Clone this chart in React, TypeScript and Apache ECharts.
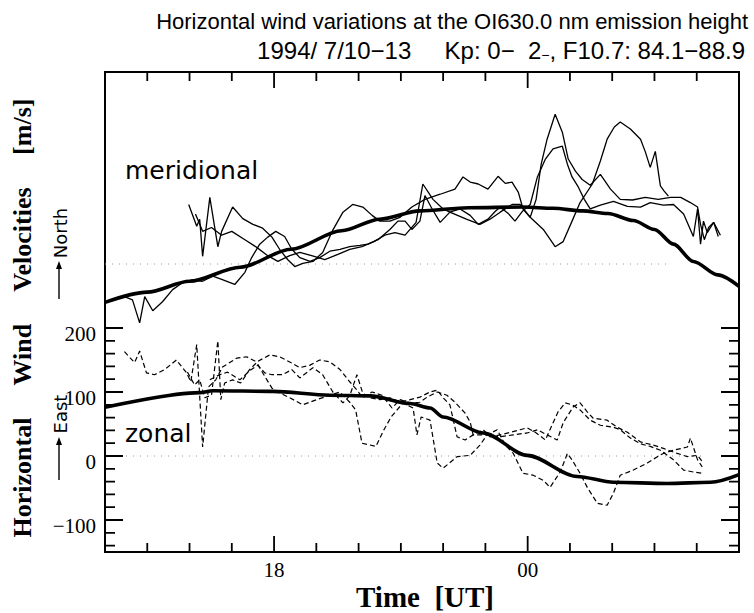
import React, { useEffect, useRef } from "react";
import * as echarts from "echarts";

// Time axis in hours UT; values above 24 fall on the next day (24 = 00 UT).
const TIME_MIN = 14;
const TIME_MAX = 29;
// Shared velocity axis in m/s; the meridional panel is lifted by MERIDIONAL_OFFSET.
const VEL_MIN = -150;
const VEL_MAX = 600;
const MERIDIONAL_OFFSET = 300;

const X_MAJOR_TICKS = [18, 24];
const X_MINOR_TICKS = [15, 16, 17, 19, 20, 21, 22, 23, 25, 26, 27, 28];
const Y_MAJOR_TICKS = [-100, 0, 100, 200];
const Y_MINOR_TICKS = [-140, -120, -80, -60, -40, -20, 20, 40, 60, 80, 120, 140, 160, 180];

// Model (thick) curves
const merModelT = [14.0, 15.0, 16.0, 17.2, 18.4, 19.6, 20.5, 21.45, 22.6, 23.9, 24.6, 25.3, 25.9, 26.5, 27.0, 27.45, 27.92, 28.5, 29.0];
const merModelV = [-60, -44, -27, -5, 23, 52, 70, 83, 88, 89, 87, 83, 79, 68, 54, 31, 4, -17, -35];

const zonModelT = [14.0, 16.24, 16.55, 17.97, 19.32, 20.27, 21.22, 21.69, 22.0, 22.95, 23.99, 25.17, 26.03, 27.3, 28.33, 29.0];
const zonModelV = [76, 99, 102, 101, 95, 94, 82, 75, 61, 36, 1, -32, -41, -43, -41, -29];

// Observed meridional winds, one array pair per night
const mer1T = [15.98, 16.17, 16.24, 16.31, 16.48, 16.67, 16.76, 17.02, 17.26, 17.5, 17.73, 17.95, 18.13, 18.32, 18.49, 18.68, 18.92, 19.15, 19.39, 19.63, 19.86, 20.1, 20.32, 20.5, 20.74, 20.98, 21.26, 21.57, 21.93, 22.28, 22.47, 22.64, 22.83, 23.06, 23.3, 23.47, 23.63, 23.78, 23.89, 24.06, 24.2, 24.32, 24.46, 24.65, 24.82, 24.96, 25.13, 25.29, 25.48, 25.72, 25.96, 26.19, 26.48, 26.78, 27.09, 27.38, 27.62, 27.85, 28.02, 28.09, 28.18, 28.28, 28.4, 28.51];
const mer1V = [93, 59, 70, 12, 104, 27, 51, 89, 71, 62, 56, 42, 23, 7, -4, 1, 4, 18, 53, 81, 93, 89, 76, 67, 67, 73, 89, 101, 109, 117, 136, 128, 125, 117, 137, 126, 128, 112, 86, 73, 101, 156, 195, 234, 206, 164, 145, 132, 123, 140, 117, 101, 100, 104, 101, 104, 104, 96, 89, 62, 38, 57, 65, 43];

const mer2T = [14.46, 14.65, 14.82, 14.94, 15.13, 15.36, 15.6, 15.84, 16.07, 16.31, 16.55, 16.76, 17.07, 17.31, 17.47, 17.66, 17.85, 18.04, 18.25, 18.42, 18.61, 18.85, 19.08, 19.32, 19.56, 19.79, 20.03, 20.22, 20.46, 20.74, 20.93, 21.1, 21.26, 21.45, 21.57, 21.74, 21.93, 22.16, 22.4, 22.64, 22.83, 23.06, 23.23, 23.35, 23.54, 23.7, 23.87, 24.06, 24.23, 24.42, 24.6, 24.82, 24.94, 25.05, 25.2, 25.34, 25.48, 25.72, 26.03, 26.36, 26.67, 26.9, 27.21, 27.45, 27.69, 27.92, 28.02, 28.09, 28.16, 28.25, 28.4, 28.56];
const mer2V = [-51, -56, -92, -51, -73, -59, -40, -29, -25, -27, -19, -24, -32, -13, 10, 31, 42, 51, 43, 23, 10, 4, 10, 20, 23, 27, 29, 31, 38, 54, 67, 67, 54, 67, 107, 86, 65, 81, 86, 76, 62, 70, 82, 89, 79, 67, 82, 93, 136, 164, 180, 184, 156, 136, 120, 101, 86, 92, 98, 90, 89, 96, 92, 93, 78, 43, 86, 31, 67, 49, 65, 45];

const mer3T = [16.14, 16.31, 16.52, 16.76, 17.0, 17.31, 17.59, 17.85, 18.09, 18.37, 18.61, 18.89, 19.2, 19.51, 19.79, 20.08, 20.36, 20.62, 20.86, 21.1, 21.36, 21.52, 21.76, 22.0, 22.16, 22.55, 22.87, 23.11, 23.35, 23.63, 23.82, 24.06, 24.37, 24.65, 24.84, 25.05, 25.24, 25.53, 25.72, 25.88, 26.05, 26.19, 26.43, 26.67, 26.78, 26.9, 27.02, 27.14, 27.23, 27.33];
const mer3V = [78, 51, 57, 45, 51, 38, 26, 13, 4, 13, 18, 13, 7, 15, 23, 27, 35, 45, 49, 45, 65, 125, 101, 86, 81, 70, 62, 70, 81, 93, 93, 73, 54, 27, 35, 67, 96, 125, 161, 195, 214, 222, 211, 195, 176, 151, 176, 122, 114, 106];

// Observed zonal winds, one array pair per night
const zon1T = [14.46, 14.6, 14.7, 14.82, 14.98, 15.17, 15.41, 15.69, 15.93, 16.03, 16.17, 16.31, 16.45, 16.62, 16.78, 17.12, 17.35, 17.59, 17.9, 18.13, 18.37, 18.61, 18.85, 19.08, 19.32, 19.56, 19.79, 19.96, 20.1, 20.32, 20.55, 20.79, 20.98, 21.22, 21.45, 21.62, 21.86, 22.09, 22.28, 22.52, 22.64, 22.71, 23.04, 23.35, 23.66, 23.99, 24.23, 24.46, 24.7, 24.84, 25.08, 25.24, 25.41, 25.55, 25.88, 26.12, 26.36, 26.67, 26.97, 27.21, 27.54, 27.78, 28.02, 28.16];
const zon1V = [163, 153, 146, 164, 130, 127, 135, 150, 130, 116, 174, 14, 108, 119, 139, 153, 155, 147, 158, 155, 147, 138, 142, 150, 147, 135, 116, 103, 91, 100, 95, 75, 88, 83, 84, 92, 100, 95, 84, 67, 53, 33, 33, 30, 33, 36, 41, 33, 25, 52, 77, 83, 69, 59, 56, 45, 37, 22, 17, 12, 4, -1, 1, -11];

const zon2T = [15.95, 16.12, 16.24, 16.36, 16.52, 16.67, 16.74, 16.83, 17.02, 17.21, 17.42, 17.59, 17.73, 17.95, 18.18, 18.37, 18.68, 19.01, 19.32, 19.56, 19.79, 19.93, 20.08, 20.41, 20.6, 20.77, 21.05, 21.29, 21.38, 21.48, 21.69, 21.86, 22.0, 22.33, 22.64, 22.87, 23.04, 23.28, 23.47, 23.66, 23.89, 24.13, 24.37, 24.53, 24.77, 24.94, 25.05, 25.24, 25.41, 25.65, 25.88, 26.03, 26.19, 26.5, 26.83, 27.07, 27.21, 27.45, 27.78, 27.85, 28.02, 28.13];
const zon2V = [131, 111, 119, 91, 95, 180, 88, 114, 119, 114, 135, 146, 130, 106, 97, 91, 80, 88, 95, 100, 84, 72, 20, 15, 41, 61, 83, 75, 33, 61, 56, -11, -19, -1, 1, 17, 33, 41, 17, 4, -27, -30, -38, -49, -25, 4, -6, -27, -49, -74, -77, -58, -30, -22, -11, -1, 4, 9, 14, 28, -6, -17];

const zon3T = [16.48, 16.71, 16.9, 17.19, 17.42, 17.61, 17.78, 17.95, 18.2, 18.42, 18.61, 18.92, 19.15, 19.39, 19.63, 19.79, 19.96, 20.1, 20.27, 20.5, 20.74, 20.98, 21.22, 21.45, 21.69, 21.86, 22.0, 22.16, 22.33, 22.52, 22.71, 22.95, 23.11, 23.35, 23.59, 23.82, 23.99, 24.18, 24.42, 24.58, 24.72, 24.89, 25.05, 25.24, 25.48, 25.72, 26.03, 26.19, 26.43, 26.67, 26.9, 27.14, 27.45, 27.69, 27.92, 28.13];
const zon3V = [119, 127, 131, 119, 133, 142, 130, 127, 127, 135, 122, 138, 127, 100, 83, 94, 127, 98, 91, 88, 91, 84, 88, 92, 100, 103, 91, 80, 30, 25, 33, 41, 30, 33, 37, 41, 44, 37, 25, 49, 69, 83, 80, 72, 56, 48, 45, 41, 28, 19, 15, 9, -6, -22, -25, -27];

// Extent of the dotted zero references in each panel
const merZeroT = [14, 27.4];
const zonZeroT = [14, 28.2];

const toPoints = (t: number[], v: number[], shift = 0) => t.map((h, i) => [h, v[i] + shift]);

// Plot frame in page pixels and the linear scales it implies
const GRID = { left: 105, right: 15, top: 72, bottom: 61 };
const CHART_W = 754;
const CHART_H = 613;
const PX_PER_HOUR = (CHART_W - GRID.left - GRID.right) / (TIME_MAX - TIME_MIN);
const PX_PER_MS = (CHART_H - GRID.top - GRID.bottom) / (VEL_MAX - VEL_MIN);

// Tick "combs": one polyline runs along a frame edge and juts inward at every tick.
function timeComb(edge: number, dir: number) {
  const ticks = [...X_MAJOR_TICKS, ...X_MINOR_TICKS].sort((a, b) => a - b);
  const pts: number[][] = [[TIME_MIN, edge]];
  ticks.forEach((t) => {
    const len = X_MAJOR_TICKS.includes(t) ? 16 : 9;
    pts.push([t, edge], [t, edge + (dir * len) / PX_PER_MS], [t, edge]);
  });
  pts.push([TIME_MAX, edge]);
  return pts;
}
function velComb(edge: number, dir: number) {
  const ticks = [...Y_MAJOR_TICKS, ...Y_MINOR_TICKS].sort((a, b) => a - b);
  const pts: number[][] = [[edge, VEL_MIN]];
  ticks.forEach((v) => {
    const len = Y_MAJOR_TICKS.includes(v) ? 18 : 10;
    pts.push([edge, v], [edge + (dir * len) / PX_PER_HOUR, v], [edge, v]);
  });
  return pts;
}

export default function App() {
  const ref = useRef<HTMLDivElement>(null);

  useEffect(() => {
    if (!ref.current) return;
    const chart = echarts.init(ref.current, null, { renderer: "svg" });

    const serif = '"Liberation Serif", "Times New Roman", serif';
    const sans = '"DejaVu Sans", sans-serif';
    const helv = '"Liberation Sans", Arial, sans-serif';

    const fmtHour = (v: number) => String(Math.round(v) % 24).padStart(2, "0");
    const fmtVel = (v: number) => (v < 0 ? "\u2212" + Math.abs(v) : String(v));

    const xAxis = {
      type: "value", min: TIME_MIN, max: TIME_MAX, position: "bottom",
      axisLine: { show: false, onZero: false }, splitLine: { show: false }, axisTick: { show: false },
      axisLabel: { show: true, customValues: X_MAJOR_TICKS, formatter: fmtHour, fontFamily: serif, fontSize: 21, color: "#000", margin: 7 },
    };

    const yAxis = {
      type: "value", min: VEL_MIN, max: VEL_MAX, position: "left",
      axisLine: { show: false, onZero: false }, splitLine: { show: false }, axisTick: { show: false },
      axisLabel: {
        show: true, customValues: Y_MAJOR_TICKS, formatter: fmtVel, fontFamily: serif, fontSize: 21, color: "#000",
        margin: 9, verticalAlign: "top", lineHeight: 12,
      },
    };

    const lineSeries = (data: any[], lineStyle: any, extra: any = {}) => ({
      type: "line", xAxisIndex: 0, yAxisIndex: 0, data,
      symbol: "none", showSymbol: false, silent: true, lineStyle, ...extra,
    });

    const thin = { color: "#000", width: 1.3 };
    const dashed = { color: "#000", width: 1.2, type: [5, 3] };
    const thick = { color: "#000", width: 3.6 };
    const dotted = { color: "#9a9a9a", width: 1, type: [1, 6] };
    const tickStyle = { color: "#000", width: 1.8, join: "miter" };

    const series = [
      lineSeries(merZeroT.map((h) => [h, MERIDIONAL_OFFSET]), dotted),
      lineSeries(zonZeroT.map((h) => [h, 0]), dotted),
      lineSeries(toPoints(mer1T, mer1V, MERIDIONAL_OFFSET), thin),
      lineSeries(toPoints(mer2T, mer2V, MERIDIONAL_OFFSET), thin),
      lineSeries(toPoints(mer3T, mer3V, MERIDIONAL_OFFSET), thin),
      lineSeries(toPoints(zon1T, zon1V), dashed),
      lineSeries(toPoints(zon2T, zon2V), dashed),
      lineSeries(toPoints(zon3T, zon3V), dashed),
      lineSeries(toPoints(merModelT, merModelV, MERIDIONAL_OFFSET), thick, { smooth: 0.3, smoothMonotone: "x", z: 5 }),
      lineSeries(toPoints(zonModelT, zonModelV), thick, { smooth: 0.3, smoothMonotone: "x", z: 5 }),
      // frame ticks
      lineSeries(timeComb(VEL_MIN, 1), tickStyle, { z: 4 }),
      lineSeries(timeComb(VEL_MAX, -1), tickStyle, { z: 4 }),
      lineSeries(velComb(TIME_MIN, 1), tickStyle, { z: 4 }),
      lineSeries(velComb(TIME_MAX, -1), tickStyle, { z: 4 }),
    ];

    const arrowUp = (x: number, yTail: number, yTip: number) => [
      { type: "line", shape: { x1: x, y1: yTail, x2: x, y2: yTip + 6 }, style: { stroke: "#000", lineWidth: 1.4 } },
      { type: "polygon", shape: { points: [[x, yTip], [x - 3, yTip + 8], [x + 3, yTip + 8]] }, style: { fill: "#000" } },
    ];

    const texts = [
      {
        type: "text", x: 748, y: 21,
        style: {
          text: "Horizontal wind variations at the OI630.0 nm emission height",
          fontFamily: helv, fontSize: 22, fill: "#000", textAlign: "right", textVerticalAlign: "middle",
        },
      },
      {
        type: "text", x: 745, y: 50,
        style: {
          text: "1994/ 7/10\u221213     Kp: 0\u2212  2{s|\u2212}, F10.7: 84.1\u221288.9",
          fontFamily: helv, fontSize: 24, fill: "#000", textAlign: "right", textVerticalAlign: "middle",
          rich: { s: { fontSize: 14, verticalAlign: "bottom", fontFamily: helv } },
        },
      },
      { type: "text", x: 125, y: 170, style: { text: "meridional", fontFamily: sans, fontSize: 25, fill: "#000", textAlign: "left", textVerticalAlign: "middle" } },
      { type: "text", x: 125, y: 433, style: { text: "zonal", fontFamily: sans, fontSize: 25, fill: "#000", textAlign: "left", textVerticalAlign: "middle" } },
      { type: "text", x: 425, y: 597, style: { text: "Time  [UT]", fontFamily: serif, fontWeight: "bold", fontSize: 29, fill: "#000", textAlign: "center", textVerticalAlign: "middle" } },
      {
        type: "text", x: 22, y: 318, rotation: Math.PI / 2,
        style: { text: "Horizontal     Wind     Velocities     [m/s]", fontFamily: serif, fontWeight: "bold", fontSize: 26, fill: "#000", textAlign: "center", textVerticalAlign: "middle" },
      },
      { type: "text", x: 60, y: 233, rotation: Math.PI / 2, style: { text: "North", fontFamily: sans, fontSize: 18, fill: "#000", textAlign: "center", textVerticalAlign: "middle" } },
      ...arrowUp(59, 299, 261),
      { type: "text", x: 60, y: 414, rotation: Math.PI / 2, style: { text: "East", fontFamily: sans, fontSize: 18, fill: "#000", textAlign: "center", textVerticalAlign: "middle" } },
      ...arrowUp(59, 480, 437),
    ];

    chart.setOption({
      animation: false,
      backgroundColor: "#fff",
      grid: {
        ...GRID,
        show: true, borderColor: "#000", borderWidth: 2,
        containLabel: false, outerBoundsMode: "none",
      },
      xAxis,
      yAxis,
      series,
      graphic: texts,
    } as any);

    return () => chart.dispose();
  }, []);

  return (
    <div
      ref={ref}
      style={{ position: "fixed", left: 0, top: 0, width: CHART_W, height: CHART_H, background: "#fff" }}
    />
  );
}
